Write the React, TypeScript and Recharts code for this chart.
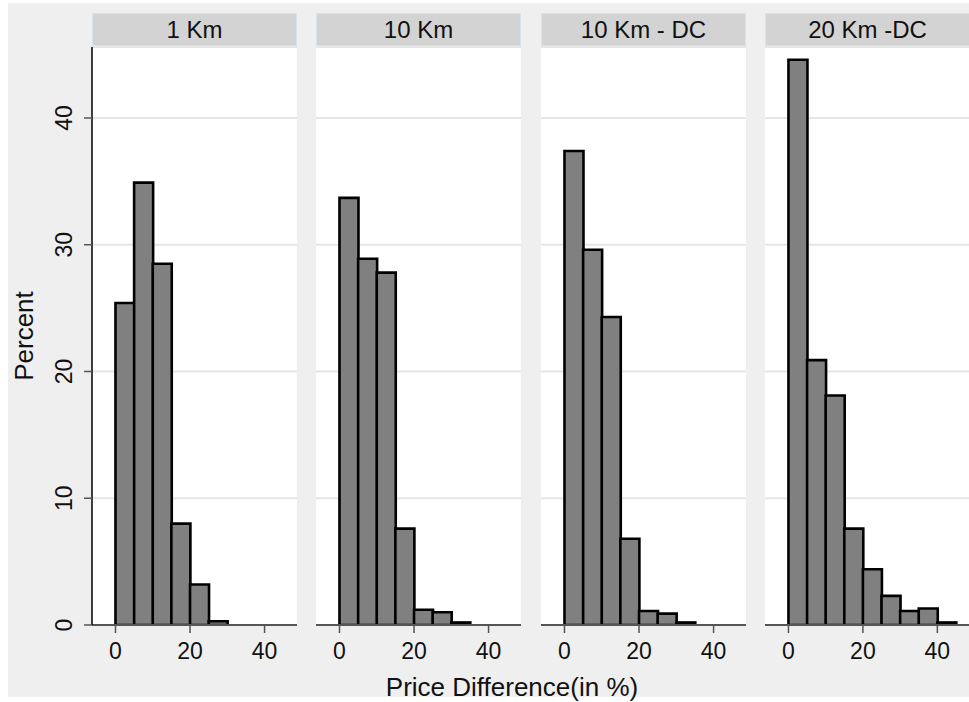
import { Bar, BarChart, CartesianGrid, XAxis, YAxis } from "recharts";

// bin centres (5-point bins starting at 0)
const binMids = [2.5, 7.5, 12.5, 17.5, 22.5, 27.5, 32.5, 37.5, 42.5];

const panelTitles = ["1 Km", "10 Km", "10 Km - DC", "20 Km -DC"];
const km1 = [25.4, 34.9, 28.5, 8.0, 3.2, 0.3];
const km10 = [33.7, 28.9, 27.8, 7.6, 1.2, 1.0, 0.2];
const km10dc = [37.4, 29.6, 24.3, 6.8, 1.1, 0.9, 0.2];
const km20dc = [44.6, 20.9, 18.1, 7.6, 4.4, 2.3, 1.1, 1.3, 0.2];

const xTicks = [0, 20, 40];
const yTicks = [0, 10, 20, 30, 40];

const W = 969;
const H = 702;
const PLOT_TOP = 47;
const PLOT_BOTTOM = 625;
const PLOT_W = 205;
const panelLefts = [92, 316, 541, 765];
const FONT = "'Liberation Sans', Arial, sans-serif";

function YTick(props: any) {
  const { x, y, payload } = props;
  return (
    <g transform={`translate(${x - 10}, ${y}) rotate(-90)`}>
      <text x={0} y={0} textAnchor="middle" fontSize={23} fontFamily={FONT} fill="#111">
        {payload.value}
      </text>
    </g>
  );
}

function Panel({ values, index }: { values: number[]; index: number }) {
  const data = values.map((v, i) => ({ mid: binMids[i], pct: v }));
  const left = panelLefts[index];
  const right = Math.max(0, W - left - PLOT_W);
  const showY = index === 0;
  const xMax = index === 3 ? 48.5 : 48.7;
  return (
    <div style={{ position: "absolute", left: 0, top: 0 }}>
      <BarChart
        width={W}
        height={H}
        data={data}
        barCategoryGap={0}
        barGap={0}
        margin={{ top: PLOT_TOP, bottom: H - PLOT_BOTTOM - 40, left: showY ? 8 : left, right }}
      >
        <CartesianGrid fill="#ffffff" vertical={false} stroke="#e6e6e6" strokeWidth={2} />
        <XAxis
          dataKey="mid"
          type="number"
          domain={[-6.3, xMax]}
          ticks={xTicks}
          allowDataOverflow
          height={40}
          axisLine={{ stroke: "#555", strokeWidth: 2 }}
          tickLine={{ stroke: "#555", strokeWidth: 1.5 }}
          tickSize={8}
          tickMargin={10}
          tick={{ fill: "#111", fontSize: 23, fontFamily: FONT }}
        />
        <YAxis
          type="number"
          domain={[0, 45.6]}
          ticks={yTicks}
          allowDataOverflow
          hide={!showY}
          width={84}
          axisLine={{ stroke: "#000", strokeWidth: 1.5 }}
          tickLine={{ stroke: "#555", strokeWidth: 1.5 }}
          tickSize={8}
          tick={<YTick />}
        />
        <Bar
          dataKey="pct"
          fill="#808080"
          stroke="#000"
          strokeWidth={2.6}
          isAnimationActive={false}
        />
      </BarChart>
      <div
        style={{
          position: "absolute",
          left,
          top: 13,
          width: PLOT_W,
          height: 33,
          boxSizing: "border-box",
          background: "#d3d3d3",
          border: "1px solid #d8e4ea",
          textAlign: "center",
          lineHeight: "31px",
          fontSize: 24,
          fontFamily: FONT,
          color: "#111",
        }}
      >
        {panelTitles[index]}
      </div>
    </div>
  );
}

export default function App() {
  const series = [km1, km10, km10dc, km20dc];
  return (
    <div
      style={{
        position: "absolute",
        left: 0,
        top: 0,
        width: W,
        height: H,
        overflow: "hidden",
        background: "#ffffff",
      }}
    >
      <div
        style={{
          position: "absolute",
          left: 8,
          top: 3,
          width: W - 8,
          height: 694,
          background: "#efefef",
        }}
      />
      {series.map((values, i) => (
        <Panel key={panelTitles[i]} values={values} index={i} />
      ))}
      <svg width={W} height={H} style={{ position: "absolute", left: 0, top: 0, pointerEvents: "none" }}>
        <text
          transform="translate(33, 336) rotate(-90)"
          textAnchor="middle"
          fontSize={26}
          fontFamily={FONT}
          fill="#111"
        >
          Percent
        </text>
        <text x={512} y={696} textAnchor="middle" fontSize={26} fontFamily={FONT} fill="#111">
          Price Difference(in %)
        </text>
      </svg>
    </div>
  );
}
